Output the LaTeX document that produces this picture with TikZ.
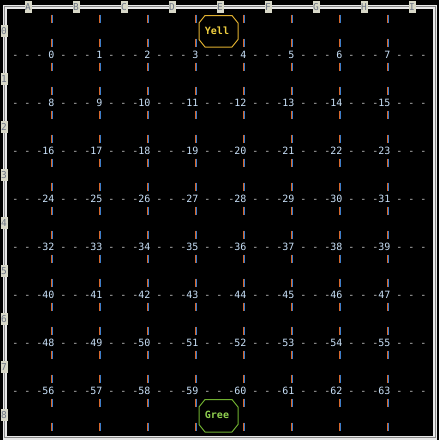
\documentclass[tikz,border=0pt]{standalone}
\usepackage{fontspec}
\newfontfamily\monof{DejaVu Sans Mono}
\definecolor{numc}{HTML}{C8E0F8}
\definecolor{dashc}{HTML}{C8C8C8}
\definecolor{pipeo}{HTML}{D8682C}
\definecolor{pipeb}{HTML}{3C7CC8}
\definecolor{labbg}{HTML}{D8D8C8}
\definecolor{labfg}{HTML}{6E7686}
\definecolor{yellc}{HTML}{E0B030}
\definecolor{yelltext}{HTML}{F0D040}
\definecolor{greec}{HTML}{70B030}
\definecolor{greetext}{HTML}{90D050}
\definecolor{bordo}{HTML}{E8E8E8}
\definecolor{bordi}{HTML}{8A8A8A}
\tikzset{
  num/.style={font=\monof\fontsize{10}{12}\selectfont, text=numc, inner sep=0pt, anchor=base east},
  dsh/.style={font=\monof\fontsize{10}{12}\selectfont, text=dashc, inner sep=0pt, anchor=base},
  lab/.style={font=\monof\fontsize{9.5}{10}\selectfont, text=labfg, fill=labbg, inner sep=0pt, minimum width=7pt, minimum height=12pt},
  pipel/.style={draw=pipeo, line width=1.6pt},
  piper/.style={draw=pipeb, line width=0.8pt},
  octo/.style={line width=1pt},
  tag/.style={font=\monof\bfseries\fontsize{10}{12}\selectfont, inner sep=0pt}
}
\begin{document}
\begin{tikzpicture}[x=1pt,y=-1pt]
\fill[black] (0,0) rectangle (439,440);
\useasboundingbox (0,0) rectangle (439,440);
% border
\draw[draw=bordo, double=bordi, double distance=1pt, line width=1.5pt] (4.5,6.5) rectangle (435,437.5);
% pipes
\foreach \c in {0,...,7} {
  \foreach \r in {0,...,17} {
    \coordinate (pt\c-\r) at ({51.5+48*\c},{14.7+24*\r});
    \coordinate (pb\c-\r) at ({51.5+48*\c},{23.3+24*\r});
    \draw[pipel] (pt\c-\r) -- (pb\c-\r);
    \draw[piper] ([xshift=1.3pt]pt\c-\r) -- ([xshift=1.3pt]pb\c-\r);
  }
}
% dashes
\foreach \r in {0,...,7} {
  \foreach \k in {0,...,34} {
    \pgfmathtruncatemacro{\m}{mod(\k,4)}
    \ifnum\m=3 \else
      \node[dsh] (d\r-\k) at ({15.5+12*\k},{58.5+48*\r}) {-};
    \fi
  }
}
% numbers
\foreach \r in {0,...,7} {
  \foreach \c in {0,...,7} {
    \pgfmathtruncatemacro{\n}{8*\r+\c}
    \node[num] (n\n) at ({54.5+48*\c},{58.5+48*\r}) {\n};
  }
}
% border labels
\foreach \L [count=\i from 0] in {A,B,C,D,E,F,G,H,I} {
  \node[lab] (top\i) at ({28+48*\i},7) {\L};
}
\foreach \i in {0,...,8} {
  \node[lab] (left\i) at (4,{31+48*\i}) {\i};
}
% Yell octagon
\node[tag, text=yelltext] (yell) at (217,31) {Yell};
\draw[octo, draw=yellc] (205,15.5) -- (232,15.5) -- (238,23) -- (238,39.5) -- (232,47) -- (205,47) -- (199,39.5) -- (199,23) -- cycle;
% Gree octagon
\node[tag, text=greetext] (gree) at (217,415) {Gree};
\draw[octo, draw=greec] (205,399.5) -- (232,399.5) -- (238,407) -- (238,424.5) -- (232,432) -- (205,432) -- (199,424.5) -- (199,407) -- cycle;
\end{tikzpicture}
\end{document}
